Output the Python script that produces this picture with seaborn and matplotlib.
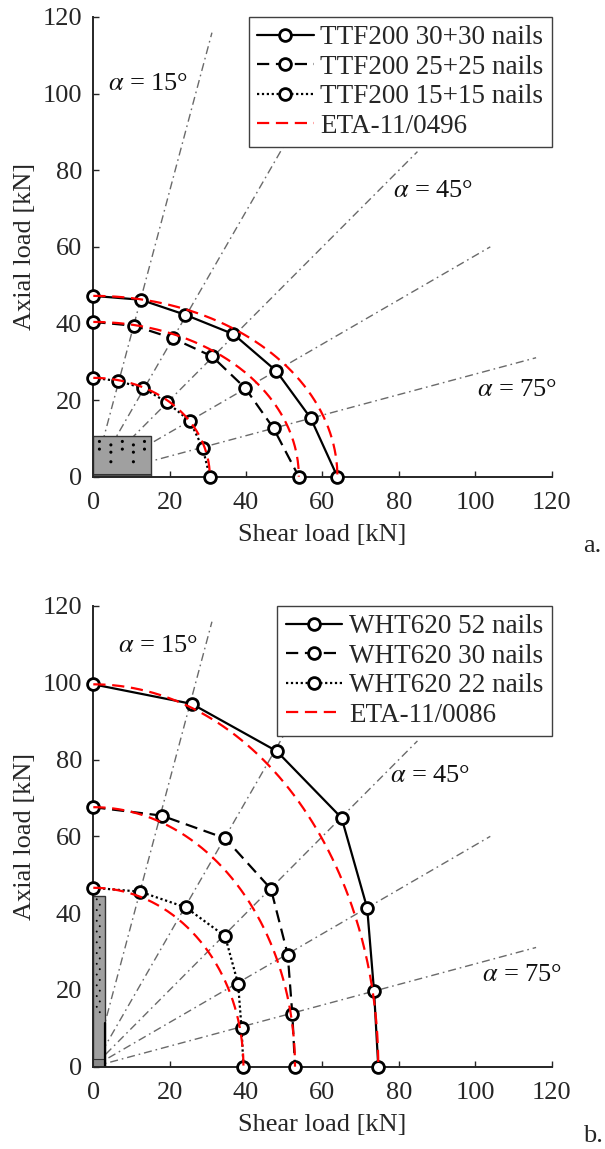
import numpy as np
import pandas as pd
import matplotlib
matplotlib.use("Agg")
import matplotlib.pyplot as plt
from matplotlib.patches import Rectangle
import seaborn as sns

# ---------------- data ----------------
# Panel a: TTF200 connector (points on the alpha = 90, 75, ..., 0 deg rays)
ttf_30_shear = [0.0, 12.4, 24.0, 36.7, 47.9, 56.9, 63.9]
ttf_30_axial = [47.2, 46.2, 42.3, 37.2, 27.6, 15.3, 0.0]
ttf_25_shear = [0.0, 10.7, 20.9, 31.1, 39.8, 47.2, 53.8]
ttf_25_axial = [40.4, 39.4, 36.1, 31.4, 23.1, 12.6, 0.0]
ttf_15_shear = [0.0, 6.5, 13.1, 19.3, 25.3, 28.6, 30.5]
ttf_15_axial = [25.8, 25.0, 23.1, 19.4, 14.5, 7.6, 0.0]

# Panel b: WHT620 connector
wht_52_shear = [0.0, 25.8, 48.0, 65.0, 71.7, 73.5, 74.6]
wht_52_axial = [99.6, 94.5, 82.2, 64.8, 41.3, 19.6, 0.0]
wht_30_shear = [0.0, 17.9, 34.5, 46.5, 50.9, 52.1, 52.8]
wht_30_axial = [67.6, 65.4, 59.5, 46.3, 29.2, 13.7, 0.0]
wht_22_shear = [0.0, 12.2, 24.2, 34.5, 37.9, 38.8, 39.3]
wht_22_axial = [46.6, 45.6, 41.5, 34.0, 21.6, 10.2, 0.0]

# ETA design capacities (shear, axial) for each nail configuration
eta_a_shear_cap = [63.9, 53.8, 30.5]
eta_a_axial_cap = [47.2, 40.4, 25.8]
eta_b_shear_cap = [74.6, 52.8, 39.3]
eta_b_axial_cap = [99.6, 67.6, 46.6]

labels_a = ["TTF200 30+30 nails", "TTF200 25+25 nails", "TTF200 15+15 nails", "ETA-11/0496"]
labels_b = ["WHT620 52 nails", "WHT620 30 nails", "WHT620 22 nails", "ETA-11/0086"]

ray_angles = [15, 30, 45, 60, 75]      # alpha, measured from the axial direction
ray_length = 120
ray_labels = ["15", "45", "75"]
ticks = [0, 20, 40, 60, 80, 100, 120]

# nail layout drawn on the connector sketches
nails_a_x = [1.6, 7.6, 13.4, 4.6, 10.5, 1.6, 4.6, 7.6, 10.5, 13.4, 4.6, 10.5]
nails_a_y = [9.2, 9.2, 9.2, 8.3, 8.3, 7.2, 6.4, 7.2, 6.4, 7.2, 3.9, 3.9]
nails_b_y = list(np.arange(43.6, 13.5, -1.4))
nails_b_x = [0.9 if i % 2 == 0 else 1.7 for i in range(len(nails_b_y))]

# ---------------- style ----------------
sns.set_theme(style="white")
plt.rcParams["font.family"] = ["Liberation Serif", "DejaVu Serif"]
plt.rcParams["mathtext.fontset"] = "stix"
plt.rcParams["axes.edgecolor"] = "#262626"
FS = 19
LEG_FS = 19.5

W, H = 605, 1149
fig = plt.figure(figsize=(W / 100, H / 100), dpi=100)
ax_a = fig.add_axes([93.3 / W, 1 - 476.7 / H, 458.4 / W, 459.7 / H])
ax_b = fig.add_axes([93.3 / W, 1 - 1066.7 / H, 458.4 / W, 460.7 / H])

solid = "-"
dashed = (0, (5.5, 3.0))
dotted = (0, (1.0, 1.2))
red_dash = (0, (5.5, 3.0))
dashdot = (0, (5.8, 2.8, 1.2, 2.8))


def draw_rays(ax):
    for a in ray_angles:
        r = np.radians(a)
        df = pd.DataFrame({"x": [0, ray_length * np.sin(r)],
                           "y": [0, ray_length * np.cos(r)]})
        sns.lineplot(data=df, x="x", y="y", ax=ax, color="#6a6a6a", lw=1.0,
                     linestyle=dashdot, sort=False, zorder=1)


def draw_series(ax, xs, ys, ls, label):
    df = pd.DataFrame({"shear": xs, "axial": ys})
    sns.lineplot(data=df, x="shear", y="axial", ax=ax, sort=False, color="black",
                 lw=1.6, linestyle=ls, marker="o", markersize=8.5,
                 markerfacecolor="white", markeredgecolor="black",
                 markeredgewidth=2.0, label=label, clip_on=False, zorder=4)


def draw_eta(ax, vcap, ncap, label):
    # quadratic interaction: (Fv/Rv)^2 + (Fax/Rax)^2 = 1
    t = np.linspace(0, np.pi / 2, 200)
    df = pd.DataFrame({"shear": vcap * np.sin(t), "axial": ncap * np.cos(t)})
    sns.lineplot(data=df, x="shear", y="axial", ax=ax, sort=False, color="#ff0000",
                 lw=1.6, linestyle=red_dash, label=label, clip_on=False, zorder=5)


def finish(ax, labels, alpha_pos):
    ax.set_xlim(0, 120)
    ax.set_ylim(0, 120)
    ax.set_xticks(ticks)
    ax.set_yticks(ticks)
    ax.tick_params(direction="in", length=4.5, width=1.0, labelsize=FS,
                   colors="#262626", pad=8, bottom=True, left=True)
    ax.tick_params(axis="x", pad=11)
    for s in ["top", "right"]:
        ax.spines[s].set_visible(False)
    for s in ["left", "bottom"]:
        ax.spines[s].set_linewidth(1.4)
    ax.set_xlabel("Shear load [kN]", fontsize=FS, color="#262626", labelpad=7)
    ax.set_ylabel("Axial load [kN]", fontsize=FS, color="#262626", labelpad=5)
    for lab, (tx, ty) in zip(ray_labels, alpha_pos):
        ax.text(tx, ty, r"$\alpha$ = " + lab + "°", fontsize=FS, ha="left",
                va="center", color="#111111")
    h, l = ax.get_legend_handles_labels()
    leg = ax.legend(h, labels, loc="upper right", bbox_to_anchor=(1.0, 1.0),
                    borderaxespad=0.0, fontsize=LEG_FS, frameon=True, fancybox=False,
                    framealpha=1.0, edgecolor="#404040", handlelength=2.1,
                    handletextpad=0.25, labelspacing=0.17, borderpad=0.3)
    leg.get_frame().set_linewidth(1.0)
    leg.set_zorder(10)


# ---------------- panel a ----------------
draw_rays(ax_a)
ax_a.add_patch(Rectangle((0, 0), 15, 10.7, facecolor="#a0a0a0",
                         edgecolor="#333333", lw=1.0, zorder=2))
ax_a.add_patch(Rectangle((0, 0), 15, 0.8, facecolor="#505050",
                         edgecolor="#333333", lw=0.8, zorder=2))
sns.scatterplot(x=nails_a_x, y=nails_a_y, ax=ax_a, color="black", s=5,
                edgecolor="none", zorder=3)
draw_series(ax_a, ttf_30_shear, ttf_30_axial, solid, labels_a[0])
draw_series(ax_a, ttf_25_shear, ttf_25_axial, dashed, labels_a[1])
draw_series(ax_a, ttf_15_shear, ttf_15_axial, dotted, labels_a[2])
for i, (v, n) in enumerate(zip(eta_a_shear_cap, eta_a_axial_cap)):
    draw_eta(ax_a, v, n, labels_a[3] if i == 0 else None)
finish(ax_a, labels_a, [(3.8, 102.5), (78.5, 74.6), (100.5, 22.7)])

# ---------------- panel b ----------------
draw_rays(ax_b)
ax_b.add_patch(Rectangle((0, 0), 3.0, 44.4, facecolor="#a0a0a0",
                         edgecolor="#333333", lw=1.0, zorder=2))
ax_b.add_patch(Rectangle((0, 0), 3.0, 2.0, facecolor="#8a8a8a",
                         edgecolor="#333333", lw=0.8, zorder=2))
ax_b.plot([2.95, 2.95], [0, 11.4], color="black", lw=1.6, zorder=2)
sns.scatterplot(x=nails_b_x, y=nails_b_y, ax=ax_b, color="black", s=2,
                edgecolor="none", zorder=3)
draw_series(ax_b, wht_52_shear, wht_52_axial, solid, labels_b[0])
draw_series(ax_b, wht_30_shear, wht_30_axial, dashed, labels_b[1])
draw_series(ax_b, wht_22_shear, wht_22_axial, dotted, labels_b[2])
for i, (v, n) in enumerate(zip(eta_b_shear_cap, eta_b_axial_cap)):
    draw_eta(ax_b, v, n, labels_b[3] if i == 0 else None)
finish(ax_b, labels_b, [(6.5, 109.6), (77.7, 75.6), (101.7, 24.0)])

fig.text(583 / W, 1 - 546 / H, "a.", fontsize=FS, ha="left", va="center")
fig.text(583 / W, 1 - 1136 / H, "b.", fontsize=FS, ha="left", va="center")

fig.savefig("out.png", dpi=100, facecolor="white")
